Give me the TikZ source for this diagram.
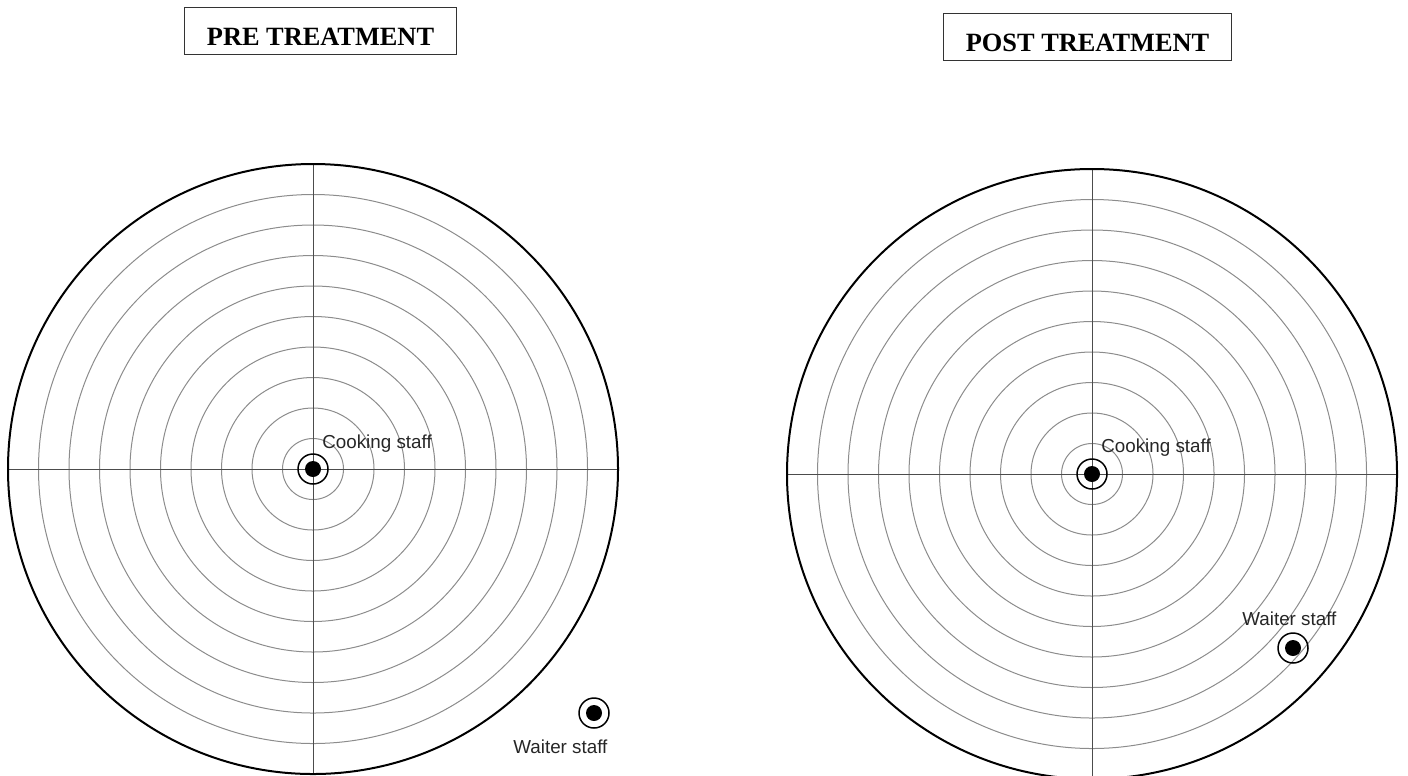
\documentclass[tikz,border=0pt]{standalone}
\usepackage{fontspec}
\setmainfont{Liberation Serif}
\newfontfamily\labelfont{Liberation Sans}
\begin{document}
\begin{tikzpicture}[x=0.02cm,y=-0.02cm,
	title node/.style = {draw=black!80, line width=0.02cm, font=\fontsize{15}{18}\selectfont\bfseries,
		inner xsep=0.44cm, inner ysep=0pt, text height=0.76cm, text depth=0.18cm, anchor=base},
	staff node/.style = {circle, draw, line width=0.03cm, minimum size=0.6cm, inner sep=0pt},
	name node/.style = {font=\labelfont\fontsize{10.7}{13}\selectfont, text=black!85, inner sep=0pt, anchor=base west},
	ring/.style = {draw=black!45, line width=0.02cm},
	axis/.style = {draw=black!70, line width=0.02cm}]
	
	\useasboundingbox (0,0) rectangle (1408,775);
	
	\node[title node] (pre) at (320.5,45) {PRE TREATMENT};
	\node[title node] (post) at (1087.5,51) {POST TREATMENT};
	
	\foreach \cx/\cy in {313/469, 1092/474} {
		\foreach \i in {1,...,9}
			\draw[ring] (\cx,\cy) circle [radius=\i*30.5];
		\draw[axis] (\cx-305,\cy) -- (\cx+305,\cy);
		\draw[axis] (\cx,\cy-305) -- (\cx,\cy+305);
		\draw[line width=0.04cm] (\cx,\cy) circle [radius=305];
	}
	
	\node[staff node] (cook1) at (313,469) {};
	\node[staff node] (waiter1) at (594,713) {};
	\node[staff node] (cook2) at (1092,474) {};
	\node[staff node] (waiter2) at (1293,648) {};
	\foreach \n in {cook1,waiter1,cook2,waiter2}
		\fill (\n) circle [radius=8];
	
	\node[name node] (cooklabel1) at (322,448) {Cooking staff};
	\node[name node] (waiterlabel1) at (513,753) {Waiter staff};
	\node[name node] (cooklabel2) at (1101,452) {Cooking staff};
	\node[name node] (waiterlabel2) at (1242,625) {Waiter staff};
	
\end{tikzpicture}
\end{document}
